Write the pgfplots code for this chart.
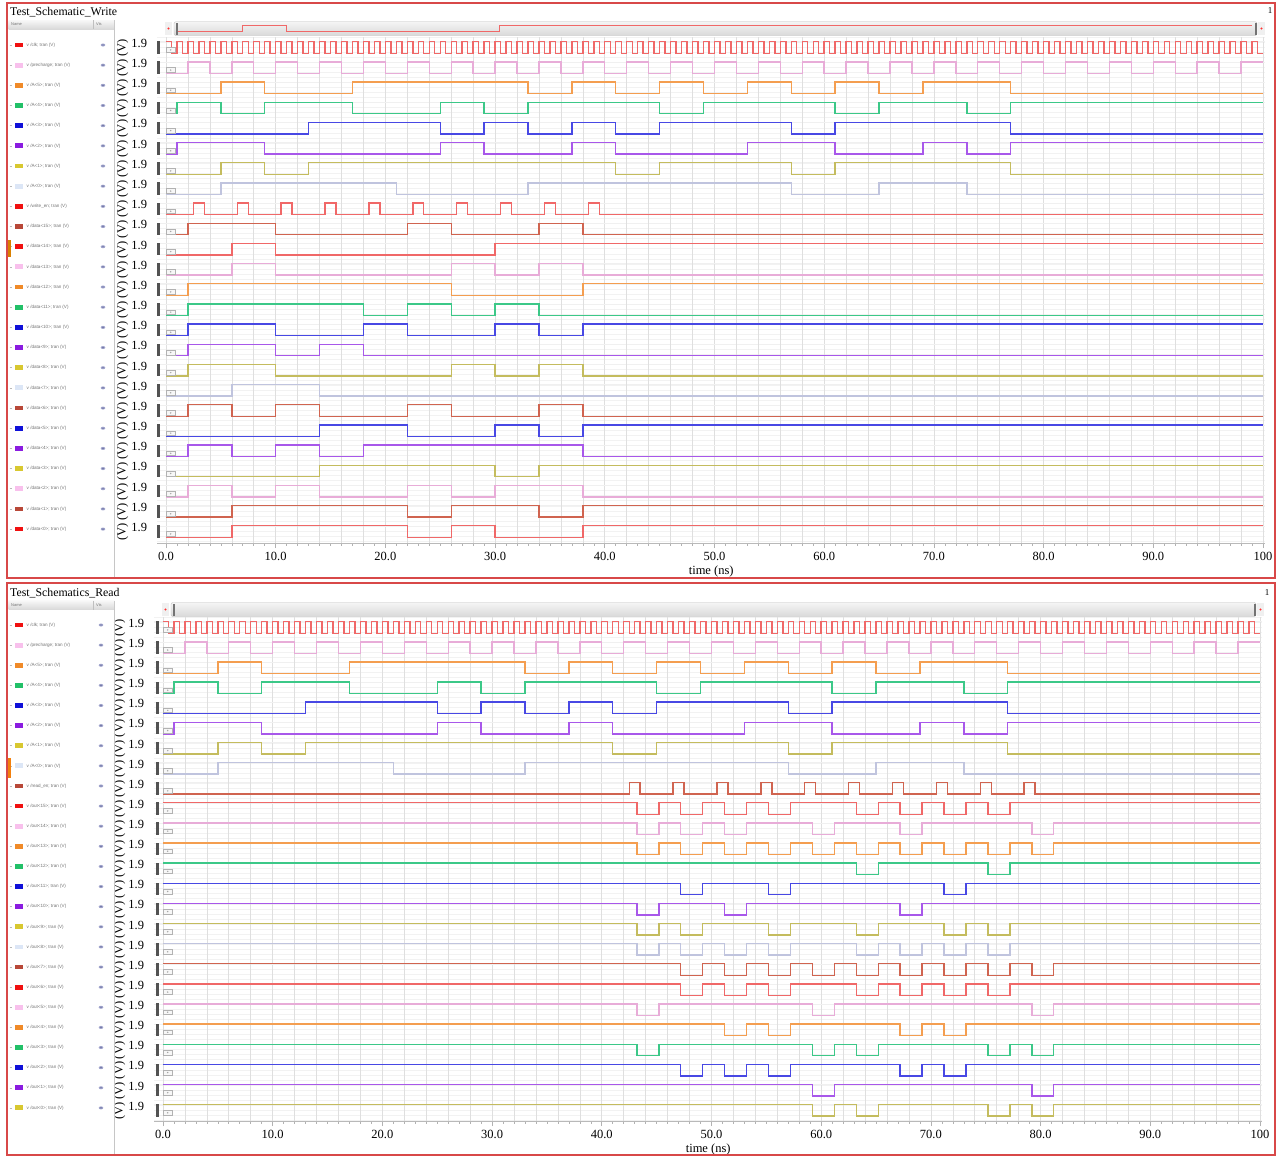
\documentclass[border=0pt]{standalone}
\usepackage{fontspec}
\setmainfont{Liberation Serif}
\newfontfamily\legfont{Liberation Sans}
\usepackage{graphicx}
\usepackage{pgfplots}
\usepackage{pgfplotstable}
\pgfplotsset{compat=1.18}

% trace colours
\definecolor{tR}{HTML}{F06868}
\definecolor{tP}{HTML}{E8ACD8}
\definecolor{tO}{HTML}{F49E50}
\definecolor{tG}{HTML}{3CC888}
\definecolor{tB}{HTML}{4848E4}
\definecolor{tV}{HTML}{A858EA}
\definecolor{tY}{HTML}{C4BC5E}
\definecolor{tL}{HTML}{C0C4DE}
\definecolor{tBr}{HTML}{D06450}
% legend colours
\definecolor{lR}{HTML}{F01010}
\definecolor{lP}{HTML}{F8C0EC}
\definecolor{lO}{HTML}{F08A28}
\definecolor{lG}{HTML}{22C068}
\definecolor{lB}{HTML}{1010D8}
\definecolor{lV}{HTML}{8A1CE0}
\definecolor{lY}{HTML}{D8C830}
\definecolor{lL}{HTML}{DCE6F6}
\definecolor{lBr}{HTML}{B84838}
\definecolor{frameR}{HTML}{D84848}
\definecolor{eyeA}{HTML}{A0A4CC}
\definecolor{eyeB}{HTML}{5A5F90}

% ---------------- data (time in ns, logic level 0/1) ----------------
\pgfplotstableread[row sep=\\]{t v\\
0 1\\0.5 0\\1 1\\1.5 0\\2 1\\2.5 0\\3 1\\3.5 0\\4 1\\4.5 0\\5 1\\5.5 0\\6 1\\6.5 0\\7 1\\7.5 0\\8 1\\8.5 0\\9 1\\9.5 0\\
10 1\\10.5 0\\11 1\\11.5 0\\12 1\\12.5 0\\13 1\\13.5 0\\14 1\\14.5 0\\15 1\\15.5 0\\16 1\\16.5 0\\17 1\\17.5 0\\18 1\\18.5 0\\19 1\\19.5 0\\
20 1\\20.5 0\\21 1\\21.5 0\\22 1\\22.5 0\\23 1\\23.5 0\\24 1\\24.5 0\\25 1\\25.5 0\\26 1\\26.5 0\\27 1\\27.5 0\\28 1\\28.5 0\\29 1\\29.5 0\\
30 1\\30.5 0\\31 1\\31.5 0\\32 1\\32.5 0\\33 1\\33.5 0\\34 1\\34.5 0\\35 1\\35.5 0\\36 1\\36.5 0\\37 1\\37.5 0\\38 1\\38.5 0\\39 1\\39.5 0\\
40 1\\40.5 0\\41 1\\41.5 0\\42 1\\42.5 0\\43 1\\43.5 0\\44 1\\44.5 0\\45 1\\45.5 0\\46 1\\46.5 0\\47 1\\47.5 0\\48 1\\48.5 0\\49 1\\49.5 0\\
50 1\\50.5 0\\51 1\\51.5 0\\52 1\\52.5 0\\53 1\\53.5 0\\54 1\\54.5 0\\55 1\\55.5 0\\56 1\\56.5 0\\57 1\\57.5 0\\58 1\\58.5 0\\59 1\\59.5 0\\
60 1\\60.5 0\\61 1\\61.5 0\\62 1\\62.5 0\\63 1\\63.5 0\\64 1\\64.5 0\\65 1\\65.5 0\\66 1\\66.5 0\\67 1\\67.5 0\\68 1\\68.5 0\\69 1\\69.5 0\\
70 1\\70.5 0\\71 1\\71.5 0\\72 1\\72.5 0\\73 1\\73.5 0\\74 1\\74.5 0\\75 1\\75.5 0\\76 1\\76.5 0\\77 1\\77.5 0\\78 1\\78.5 0\\79 1\\79.5 0\\
80 1\\80.5 0\\81 1\\81.5 0\\82 1\\82.5 0\\83 1\\83.5 0\\84 1\\84.5 0\\85 1\\85.5 0\\86 1\\86.5 0\\87 1\\87.5 0\\88 1\\88.5 0\\89 1\\89.5 0\\
90 1\\90.5 0\\91 1\\91.5 0\\92 1\\92.5 0\\93 1\\93.5 0\\94 1\\94.5 0\\95 1\\95.5 0\\96 1\\96.5 0\\97 1\\97.5 0\\98 1\\98.5 0\\99 1\\99.5 0\\
100 0\\}\tclk
\pgfplotstableread[row sep=\\]{t v\\
0 0\\2 1\\4 0\\6 1\\8 0\\10 1\\12 0\\14 1\\16 0\\18 1\\20 0\\22 1\\24 0\\26 1\\28 0\\30 1\\32 0\\34 1\\36 0\\38 1\\40 0\\
42 1\\44 0\\46 1\\48 0\\50 1\\52 0\\54 1\\56 0\\58 1\\60 0\\62 1\\64 0\\66 1\\68 0\\70 1\\72 0\\74 1\\76 0\\78 1\\80 0\\
82 1\\84 0\\86 1\\88 0\\90 1\\92 0\\94 1\\96 0\\98 1\\100 1\\}\tpre
\pgfplotstableread[row sep=\\]{t v\\0 0\\5 1\\9 0\\17 1\\33 0\\37 1\\41 0\\45 1\\49 0\\53 1\\57 0\\61 1\\65 0\\69 1\\77 0\\100 0\\}\tAfive
\pgfplotstableread[row sep=\\]{t v\\0 0\\1 1\\5 0\\9 1\\17 0\\25 1\\29 0\\33 1\\45 0\\49 1\\61 0\\65 1\\73 0\\77 1\\100 1\\}\tAfour
\pgfplotstableread[row sep=\\]{t v\\0 0\\13 1\\25 0\\29 1\\33 0\\37 1\\41 0\\45 1\\57 0\\61 1\\77 0\\100 0\\}\tAthree
\pgfplotstableread[row sep=\\]{t v\\0 0\\1 1\\9 0\\25 1\\29 0\\37 1\\41 0\\53 1\\61 0\\69 1\\73 0\\77 1\\100 1\\}\tAtwo
\pgfplotstableread[row sep=\\]{t v\\0 0\\5 1\\9 0\\13 1\\41 0\\45 1\\57 0\\61 1\\77 0\\100 0\\}\tAone
\pgfplotstableread[row sep=\\]{t v\\0 0\\5 1\\21 0\\33 1\\57 0\\65 1\\73 0\\100 0\\}\tAzero
\pgfplotstableread[row sep=\\]{t v\\0 0\\2.5 1\\3.5 0\\6.5 1\\7.5 0\\10.5 1\\11.5 0\\14.5 1\\15.5 0\\18.5 1\\19.5 0\\22.5 1\\23.5 0\\26.5 1\\27.5 0\\30.5 1\\31.5 0\\34.5 1\\35.5 0\\38.5 1\\39.5 0\\100 0\\}\twen
\pgfplotstableread[row sep=\\]{t v\\0 0\\2 1\\10 0\\22 1\\26 0\\34 1\\38 0\\100 0\\}\tdxv
\pgfplotstableread[row sep=\\]{t v\\0 0\\6 1\\10 0\\30 1\\100 1\\}\tdxiv
\pgfplotstableread[row sep=\\]{t v\\0 0\\6 1\\10 0\\26 1\\30 0\\34 1\\38 0\\100 0\\}\tdxiii
\pgfplotstableread[row sep=\\]{t v\\0 0\\2 1\\26 0\\38 1\\100 1\\}\tdxii
\pgfplotstableread[row sep=\\]{t v\\0 0\\2 1\\18 0\\22 1\\26 0\\30 1\\34 0\\100 0\\}\tdxi
\pgfplotstableread[row sep=\\]{t v\\0 0\\2 1\\10 0\\18 1\\22 0\\30 1\\34 0\\38 1\\100 1\\}\tdx
\pgfplotstableread[row sep=\\]{t v\\0 0\\2 1\\10 0\\14 1\\18 0\\100 0\\}\tdix
\pgfplotstableread[row sep=\\]{t v\\0 0\\2 1\\10 0\\26 1\\30 0\\34 1\\38 0\\100 0\\}\tdviii
\pgfplotstableread[row sep=\\]{t v\\0 0\\6 1\\14 0\\100 0\\}\tdvii
\pgfplotstableread[row sep=\\]{t v\\0 0\\2 1\\6 0\\10 1\\14 0\\22 1\\26 0\\34 1\\38 0\\100 0\\}\tdvi
\pgfplotstableread[row sep=\\]{t v\\0 0\\14 1\\22 0\\30 1\\34 0\\38 1\\100 1\\}\tdv
\pgfplotstableread[row sep=\\]{t v\\0 0\\2 1\\6 0\\10 1\\14 0\\18 1\\38 0\\100 0\\}\tdiv
\pgfplotstableread[row sep=\\]{t v\\0 0\\14 1\\30 0\\34 1\\100 1\\}\tdiii
\pgfplotstableread[row sep=\\]{t v\\0 0\\2 1\\6 0\\10 1\\14 0\\22 1\\26 0\\30 1\\38 0\\100 0\\}\tdii
\pgfplotstableread[row sep=\\]{t v\\0 0\\6 1\\22 0\\26 1\\34 0\\38 1\\100 1\\}\tdi
\pgfplotstableread[row sep=\\]{t v\\0 0\\6 1\\22 0\\26 1\\30 0\\38 1\\100 1\\}\tdzero
% read side
\pgfplotstableread[row sep=\\]{t v\\0 0\\42.5 1\\43.5 0\\46.5 1\\47.5 0\\50.5 1\\51.5 0\\54.5 1\\55.5 0\\58.5 1\\59.5 0\\62.5 1\\63.5 0\\66.5 1\\67.5 0\\70.5 1\\71.5 0\\74.5 1\\75.5 0\\78.5 1\\79.5 0\\100 0\\}\tren
\pgfplotstableread[row sep=\\]{t v\\0 1\\43.2 0\\45.2 1\\47.2 0\\49.2 1\\51.2 0\\53.2 1\\55.2 0\\57.2 1\\63.2 0\\65.2 1\\67.2 0\\69.2 1\\71.2 0\\73.2 1\\75.2 0\\77.2 1\\100 1\\}\toxv
\pgfplotstableread[row sep=\\]{t v\\0 1\\43.2 0\\45.2 1\\47.2 0\\49.2 1\\51.2 0\\53.2 1\\59.2 0\\61.2 1\\67.2 0\\69.2 1\\79.2 0\\81.2 1\\100 1\\}\toxiv
\pgfplotstableread[row sep=\\]{t v\\0 1\\43.2 0\\45.2 1\\47.2 0\\49.2 1\\51.2 0\\53.2 1\\55.2 0\\57.2 1\\59.2 0\\61.2 1\\63.2 0\\65.2 1\\67.2 0\\69.2 1\\71.2 0\\73.2 1\\75.2 0\\77.2 1\\79.2 0\\81.2 1\\100 1\\}\toxiii
\pgfplotstableread[row sep=\\]{t v\\0 1\\63.2 0\\65.2 1\\75.2 0\\77.2 1\\100 1\\}\toxii
\pgfplotstableread[row sep=\\]{t v\\0 1\\47.2 0\\49.2 1\\55.2 0\\57.2 1\\71.2 0\\73.2 1\\100 1\\}\toxi
\pgfplotstableread[row sep=\\]{t v\\0 1\\43.2 0\\45.2 1\\51.2 0\\53.2 1\\67.2 0\\69.2 1\\100 1\\}\tox
\pgfplotstableread[row sep=\\]{t v\\0 1\\43.2 0\\45.2 1\\47.2 0\\49.2 1\\55.2 0\\57.2 1\\63.2 0\\65.2 1\\71.2 0\\73.2 1\\75.2 0\\77.2 1\\100 1\\}\toix
\pgfplotstableread[row sep=\\]{t v\\0 1\\43.2 0\\45.2 1\\47.2 0\\49.2 1\\51.2 0\\53.2 1\\55.2 0\\57.2 1\\63.2 0\\65.2 1\\67.2 0\\69.2 1\\71.2 0\\73.2 1\\75.2 0\\77.2 1\\100 1\\}\toviii
\pgfplotstableread[row sep=\\]{t v\\0 1\\47.2 0\\49.2 1\\51.2 0\\53.2 1\\55.2 0\\57.2 1\\59.2 0\\61.2 1\\63.2 0\\65.2 1\\67.2 0\\69.2 1\\71.2 0\\73.2 1\\75.2 0\\77.2 1\\79.2 0\\81.2 1\\100 1\\}\tovii
\pgfplotstableread[row sep=\\]{t v\\0 1\\47.2 0\\49.2 1\\51.2 0\\53.2 1\\55.2 0\\57.2 1\\63.2 0\\65.2 1\\67.2 0\\69.2 1\\71.2 0\\73.2 1\\75.2 0\\77.2 1\\100 1\\}\tovi
\pgfplotstableread[row sep=\\]{t v\\0 1\\43.2 0\\45.2 1\\59.2 0\\61.2 1\\79.2 0\\81.2 1\\100 1\\}\tov
\pgfplotstableread[row sep=\\]{t v\\0 1\\51.2 0\\53.2 1\\55.2 0\\57.2 1\\67.2 0\\69.2 1\\71.2 0\\73.2 1\\100 1\\}\toiv
\pgfplotstableread[row sep=\\]{t v\\0 1\\43.2 0\\45.2 1\\59.2 0\\61.2 1\\63.2 0\\65.2 1\\75.2 0\\77.2 1\\79.2 0\\81.2 1\\100 1\\}\toiii
\pgfplotstableread[row sep=\\]{t v\\0 1\\47.2 0\\49.2 1\\51.2 0\\53.2 1\\55.2 0\\57.2 1\\67.2 0\\69.2 1\\71.2 0\\73.2 1\\100 1\\}\toii
\pgfplotstableread[row sep=\\]{t v\\0 1\\59.2 0\\61.2 1\\79.2 0\\81.2 1\\100 1\\}\toi
\pgfplotstableread[row sep=\\]{t v\\0 1\\59.2 0\\61.2 1\\63.2 0\\65.2 1\\75.2 0\\77.2 1\\79.2 0\\81.2 1\\100 1\\}\tozero

\pgfplotsset{
  sig/.style={const plot, no marks, line width=1.4pt},
  wave/.style={
    scale only axis, width=1108pt,
    xmin=-0.8, xmax=100.2,
    clip=false,
    axis x line*=bottom, axis y line*=left,
    x axis line style={draw=gray!55, line width=0.8pt},
    y axis line style={draw=none},
    xtick={0,10,...,100},
    xticklabels={0.0,10.0,20.0,30.0,40.0,50.0,60.0,70.0,80.0,90.0,100},
    minor x tick num=9,
    tick align=outside,
    x tick style={draw=gray!60, line width=0.6pt},
    major tick length=5pt, minor tick length=2.5pt,
    y tick style={draw=none},
    xmajorgrids, major x grid style={gray!25, line width=0.6pt},
    extra x ticks={2,4,6,8,12,14,16,18,22,24,26,28,32,34,36,38,42,44,46,48,52,54,56,58,62,64,66,68,72,74,76,78,82,84,86,88,92,94,96,98},
    extra x tick labels={},
    extra x tick style={grid=major, major grid style={gray!10, line width=0.5pt}, major tick length=0pt},
    ymajorgrids, major y grid style={gray!12, line width=0.5pt},
    yticklabel={\raisebox{-9.2pt}{\rotatebox{90}{(V)}}\hspace{3pt}1.9},
    yticklabel style={anchor=base east, inner sep=0pt, xshift=-5pt, yshift=-5.6pt},
    xticklabel style={anchor=north, inner sep=0pt, yshift=-4pt},
    ticklabel style={font=\fontsize{12.5}{14}\selectfont},
    xlabel={time (ns)},
    every axis x label/.style={at={(axis description cs:0.5,0)}, anchor=base, yshift=-31pt, font=\fontsize{12.5}{14}\selectfont},
    /pgf/number format/assume math mode=true,
  }
}
\newcommand\sigT[3]{\addplot[sig,draw=#1] table[x=t,y expr={\thisrow{v}*11.5-53.2-20.17*#2}]{#3};}
\newcommand\sigB[3]{\addplot[sig,draw=#1] table[x=t,y expr={\thisrow{v}*11.5-633.2-20.12*#2}]{#3};}

\begin{document}
\begin{tikzpicture}
% ---------- background chrome ----------
\begin{scope}[x=1pt,y=-1pt]
\path[use as bounding box] (0,0) rectangle (1281,1157);
\fill[white] (0,0) rectangle (1281,1157);
% faint horizontal lines
\foreach \k in {0,...,100} {\draw[black!5, line width=0.4pt] (157.2,{37+5.04*\k}) -- (1265.2,{37+5.04*\k});}
\foreach \k in {0,...,100} {\draw[black!5, line width=0.4pt] (154.2,{617+5.03*\k}) -- (1262.2,{617+5.03*\k});}
% scrollbars
\shade[top color=gray!8, bottom color=gray!30, draw=gray!50, rounded corners=2pt] (174,21.7) rectangle (1257,35.5);
\shade[top color=gray!8, bottom color=gray!30, draw=gray!50, rounded corners=2pt] (171,602.5) rectangle (1256,616.5);
\end{scope}

% ---------- top panel ----------
\begin{axis}[wave, at={(157.2pt,-543pt)}, anchor=south west, height=506pt,
  ymin=-543, ymax=-37,
  ytick={-41.70,-61.87,-82.04,-102.21,-122.38,-142.55,-162.72,-182.89,-203.06,-223.23,-243.40,-263.57,-283.74,-303.91,-324.08,-344.25,-364.42,-384.59,-404.76,-424.93,-445.10,-465.27,-485.44,-505.61,-525.78}]
\addplot[const plot, no marks, draw=tR, line width=0.9pt] coordinates {(1.0,-31.7) (7.0,-25) (11.0,-31.7) (30.4,-25) (99.0,-25)};
\sigT{tR}{0}{\tclk}
\sigT{tP}{1}{\tpre}
\sigT{tO}{2}{\tAfive}
\sigT{tG}{3}{\tAfour}
\sigT{tB}{4}{\tAthree}
\sigT{tV}{5}{\tAtwo}
\sigT{tY}{6}{\tAone}
\sigT{tL}{7}{\tAzero}
\sigT{tR}{8}{\twen}
\sigT{tBr}{9}{\tdxv}
\sigT{tR}{10}{\tdxiv}
\sigT{tP}{11}{\tdxiii}
\sigT{tO}{12}{\tdxii}
\sigT{tG}{13}{\tdxi}
\sigT{tB}{14}{\tdx}
\sigT{tV}{15}{\tdix}
\sigT{tY}{16}{\tdviii}
\sigT{tL}{17}{\tdvii}
\sigT{tBr}{18}{\tdvi}
\sigT{tB}{19}{\tdv}
\sigT{tV}{20}{\tdiv}
\sigT{tY}{21}{\tdiii}
\sigT{tP}{22}{\tdii}
\sigT{tBr}{23}{\tdi}
\sigT{tR}{24}{\tdzero}
\end{axis}

% ---------- bottom panel ----------
\begin{axis}[wave, at={(154.2pt,-1121pt)}, anchor=south west, height=504pt,
  ymin=-1121, ymax=-617,
  ytick={-621.70,-641.82,-661.94,-682.06,-702.18,-722.30,-742.42,-762.54,-782.66,-802.78,-822.90,-843.02,-863.14,-883.26,-903.38,-923.50,-943.62,-963.74,-983.86,-1003.98,-1024.10,-1044.22,-1064.34,-1084.46,-1104.58}]
\sigB{tR}{0}{\tclk}
\sigB{tP}{1}{\tpre}
\sigB{tO}{2}{\tAfive}
\sigB{tG}{3}{\tAfour}
\sigB{tB}{4}{\tAthree}
\sigB{tV}{5}{\tAtwo}
\sigB{tY}{6}{\tAone}
\sigB{tL}{7}{\tAzero}
\sigB{tBr}{8}{\tren}
\sigB{tR}{9}{\toxv}
\sigB{tP}{10}{\toxiv}
\sigB{tO}{11}{\toxiii}
\sigB{tG}{12}{\toxii}
\sigB{tB}{13}{\toxi}
\sigB{tV}{14}{\tox}
\sigB{tY}{15}{\toix}
\sigB{tL}{16}{\toviii}
\sigB{tBr}{17}{\tovii}
\sigB{tR}{18}{\tovi}
\sigB{tP}{19}{\tov}
\sigB{tO}{20}{\toiv}
\sigB{tG}{21}{\toiii}
\sigB{tB}{22}{\toii}
\sigB{tV}{23}{\toi}
\sigB{tY}{24}{\tozero}
\end{axis}

% ---------- foreground chrome ----------
\begin{scope}[x=1pt,y=-1pt]
% scrollbar end widgets
\foreach \xa/\xb/\ya/\yb in {165/172/22/35, 1258/1265/22/35, 162/169/603/616, 1257/1264/603/616} {
  \fill[gray!12] (\xa,\ya) rectangle (\xb,\yb);
  \fill[red!80] ({(\xa+\xb)/2},{(\ya+\yb)/2}) circle (1.1);
}
\fill[black!55] (175.5,23) rectangle (177.5,34.5);
\fill[black!55] (1254.5,23) rectangle (1256.5,34.5);
\fill[black!55] (172.5,604) rectangle (174.5,615.5);
\fill[black!55] (1253.5,604) rectangle (1255.5,615.5);
% row bars and boxes
\foreach \i in {0,...,24} {
  \fill[black!68] (156.5,{41.2+20.17*\i}) rectangle (159.5,{53.7+20.17*\i});
  \draw[gray!60, fill=gray!6, line width=0.4pt] (166.5,{47.5+20.17*\i}) rectangle (175,{52.2+20.17*\i});
  \fill[gray!70] (170.7,{49.9+20.17*\i}) circle (0.8);
  \fill[black!68] (155.5,{621.2+20.12*\i}) rectangle (158.5,{633.7+20.12*\i});
  \draw[gray!60, fill=gray!6, line width=0.4pt] (163.5,{627.5+20.12*\i}) rectangle (172,{632.2+20.12*\i});
  \fill[gray!70] (167.7,{629.9+20.12*\i}) circle (0.8);
}
% legend panes
\foreach \ya/\yb in {20/577, 600.5/1154} {
  \draw[gray!45, line width=0.6pt] (114.5,\ya) -- (114.5,\yb);
  \shade[top color=gray!6, bottom color=gray!30] (8.5,\ya) rectangle (114,{\ya+9});
  \draw[gray!50, line width=0.4pt] (93,\ya) -- (93,{\ya+9});
  \node[anchor=west, inner sep=0, font=\legfont\fontsize{4}{4}\selectfont, text=black!55] at (11,{\ya+4.5}) {Name};
  \node[anchor=west, inner sep=0, font=\legfont\fontsize{4}{4}\selectfont, text=black!55] at (96,{\ya+4.5}) {Vis};
}
\foreach \n/\c [count=\i from 0] in {clk/lR, precharge/lP, A<5>/lO, A<4>/lG, A<3>/lB, A<2>/lV, A<1>/lY, A<0>/lL, write\_en/lR, data<15>/lBr, data<14>/lR, data<13>/lP, data<12>/lO, data<11>/lG, data<10>/lB, data<9>/lV, data<8>/lY, data<7>/lL, data<6>/lBr, data<5>/lB, data<4>/lV, data<3>/lY, data<2>/lP, data<1>/lBr, data<0>/lR} {
  \draw[gray!55, line width=0.5pt] (9.5,{45+20.17*\i}) -- (12,{45+20.17*\i});
  \fill[\c] (15,{42.6+20.17*\i}) rectangle (23,{47.4+20.17*\i});
  \node[anchor=west, inner sep=0, font=\legfont\fontsize{4.6}{5}\selectfont, text=black!55] at (26.5,{45+20.17*\i}) {v /\n; tran (V)};
  \fill[eyeA] (103,{45+20.17*\i}) ellipse (2.3 and 1.5);
  \fill[eyeB] (103,{45+20.17*\i}) circle (0.7);
}
\foreach \n/\c [count=\i from 0] in {clk/lR, precharge/lP, A<5>/lO, A<4>/lG, A<3>/lB, A<2>/lV, A<1>/lY, A<0>/lL, read\_en/lBr, out<15>/lR, out<14>/lP, out<13>/lO, out<12>/lG, out<11>/lB, out<10>/lV, out<9>/lY, out<8>/lL, out<7>/lBr, out<6>/lR, out<5>/lP, out<4>/lO, out<3>/lG, out<2>/lB, out<1>/lV, out<0>/lY} {
  \draw[gray!55, line width=0.5pt] (9.5,{625+20.12*\i}) -- (12,{625+20.12*\i});
  \fill[\c] (15,{622.6+20.12*\i}) rectangle (23,{627.4+20.12*\i});
  \node[anchor=west, inner sep=0, font=\legfont\fontsize{4.6}{5}\selectfont, text=black!55] at (26.5,{625+20.12*\i}) {v /\n; tran (V)};
  \fill[eyeA] (101,{625+20.12*\i}) ellipse (2.3 and 1.5);
  \fill[eyeB] (101,{625+20.12*\i}) circle (0.7);
}
% small side markers
\fill[orange!70!olive] (7.5,240) rectangle (10.5,257);
\fill[orange!80!brown] (7.5,758) rectangle (10.5,778);
% titles
\node[anchor=base west, inner sep=0, font=\fontsize{11.8}{13}\selectfont] at (10,15.5) {Test\_Schematic\_Write};
\node[anchor=base west, inner sep=0, font=\fontsize{11.8}{13}\selectfont] at (10,596) {Test\_Schematics\_Read};
\node[anchor=base, inner sep=0, font=\fontsize{9}{10}\selectfont] at (1270,13) {1};
\node[anchor=base, inner sep=0, font=\fontsize{9}{10}\selectfont] at (1267,595) {1};
% frames
\draw[frameR, line width=1.5pt] (7,3) rectangle (1275,578);
\draw[frameR, line width=1.5pt] (7,583) rectangle (1275,1155);
\end{scope}
\end{tikzpicture}
\end{document}
